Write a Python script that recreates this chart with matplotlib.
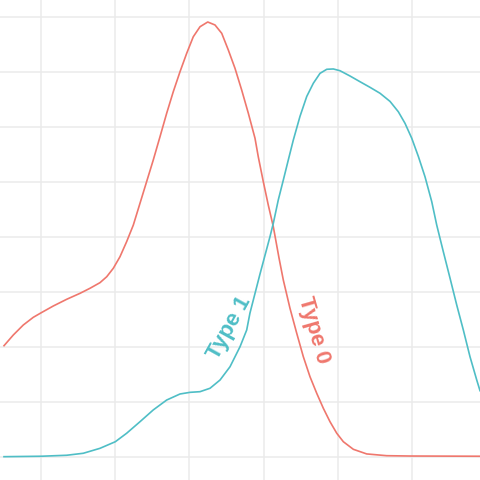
import matplotlib
matplotlib.use("Agg")
import matplotlib.pyplot as plt

# Density curve readings
type0_x = [4.97, 6.22, 7.57, 8.92, 10.00, 11.62, 13.43, 15.22, 16.57, 17.92, 18.83, 19.72,
           20.62, 21.52, 22.42, 25.11, 26.02, 26.92, 27.81, 28.72, 29.62, 30.51, 31.42, 32.46,
           33.44, 34.35, 35.24, 36.14, 37.04, 37.94, 38.84, 39.28, 39.96, 40.63, 41.31, 42.08,
           42.66, 43.56, 44.47, 45.36, 46.26, 47.17, 48.06, 48.96, 49.87, 50.76, 52.11, 53.91,
           56.61, 59.76, 69.20]
type0_y = [0.1009, 0.1106, 0.1197, 0.1267, 0.1309, 0.1370, 0.1431, 0.1485, 0.1531, 0.1582,
           0.1636, 0.1713, 0.1818, 0.1955, 0.2106, 0.2697, 0.2909, 0.3122, 0.3318, 0.3500,
           0.3667, 0.3818, 0.3909, 0.3952, 0.3925, 0.3849, 0.3697, 0.3531, 0.3334, 0.3122,
           0.2895, 0.2727, 0.2500, 0.2288, 0.2091, 0.1806, 0.1606, 0.1349, 0.1122, 0.0909,
           0.0727, 0.0576, 0.0440, 0.0318, 0.0213, 0.0136, 0.0067, 0.0025, 0.0009, 0.0006,
           0.0004]

type1_x = [4.97, 10.00, 13.43, 15.67, 17.92, 19.99, 21.52, 23.32, 25.11, 26.92, 28.72, 30.07,
           31.42, 32.77, 34.12, 35.47, 36.82, 37.72, 38.16, 39.51, 40.86, 41.31, 41.98, 42.66,
           43.33, 44.01, 44.91, 45.82, 46.71, 47.61, 48.52, 49.41, 50.31, 51.66, 53.01, 54.36,
           55.71, 57.06, 58.18, 59.08, 59.99, 60.88, 61.78, 62.69, 63.36, 64.25, 65.16, 66.06,
           66.95, 67.85, 68.76, 69.20]
type1_y = [0.0000, 0.0004, 0.0013, 0.0031, 0.0076, 0.0136, 0.0213, 0.0318, 0.0425, 0.0515,
           0.0570, 0.0585, 0.0591, 0.0622, 0.0697, 0.0818, 0.1000, 0.1152, 0.1306, 0.1660,
           0.2000, 0.2122, 0.2334, 0.2515, 0.2697, 0.2879, 0.3094, 0.3275, 0.3395, 0.3485,
           0.3522, 0.3525, 0.3509, 0.3461, 0.3409, 0.3358, 0.3304, 0.3230, 0.3136, 0.3031,
           0.2895, 0.2730, 0.2545, 0.2318, 0.2106, 0.1864, 0.1622, 0.1379, 0.1152, 0.0909,
           0.0697, 0.0600]

x_grid = [10, 20, 30, 40, 50, 60]
y_grid = [0.0, 0.05, 0.10, 0.15, 0.20, 0.25, 0.30, 0.35, 0.40]

labels = ["Type 0", "Type 1"]
colors = ["#EF776D", "#4FBEC6"]
label_pos = [(46.75, 0.115, -74), (35.45, 0.117, 61)]

fig = plt.figure(figsize=(4.8, 4.8), dpi=100)
ax = fig.add_axes([0, 0, 1, 1])
ax.set_xlim(4.43, 69.20)
ax.set_ylim(-0.0212, 0.4152)
for s in ax.spines.values():
    s.set_visible(False)
ax.set_xticks(x_grid)
ax.set_yticks(y_grid)
ax.tick_params(length=0, labelbottom=False, labelleft=False)
ax.grid(True, color="#EBEBEB", linewidth=1.1)
ax.set_axisbelow(True)

ax.plot(type0_x, type0_y, color=colors[0], linewidth=1.2, solid_joinstyle="round")
ax.plot(type1_x, type1_y, color=colors[1], linewidth=1.2, solid_joinstyle="round")

for lab, col, (lx, ly, rot) in zip(labels, colors, label_pos):
    ax.text(lx, ly, lab, color=col, rotation=rot, rotation_mode="anchor",
            ha="center", va="center", fontsize=16, fontweight="bold",
            family=["Liberation Sans", "DejaVu Sans"])

fig.savefig("out.png", dpi=100)
